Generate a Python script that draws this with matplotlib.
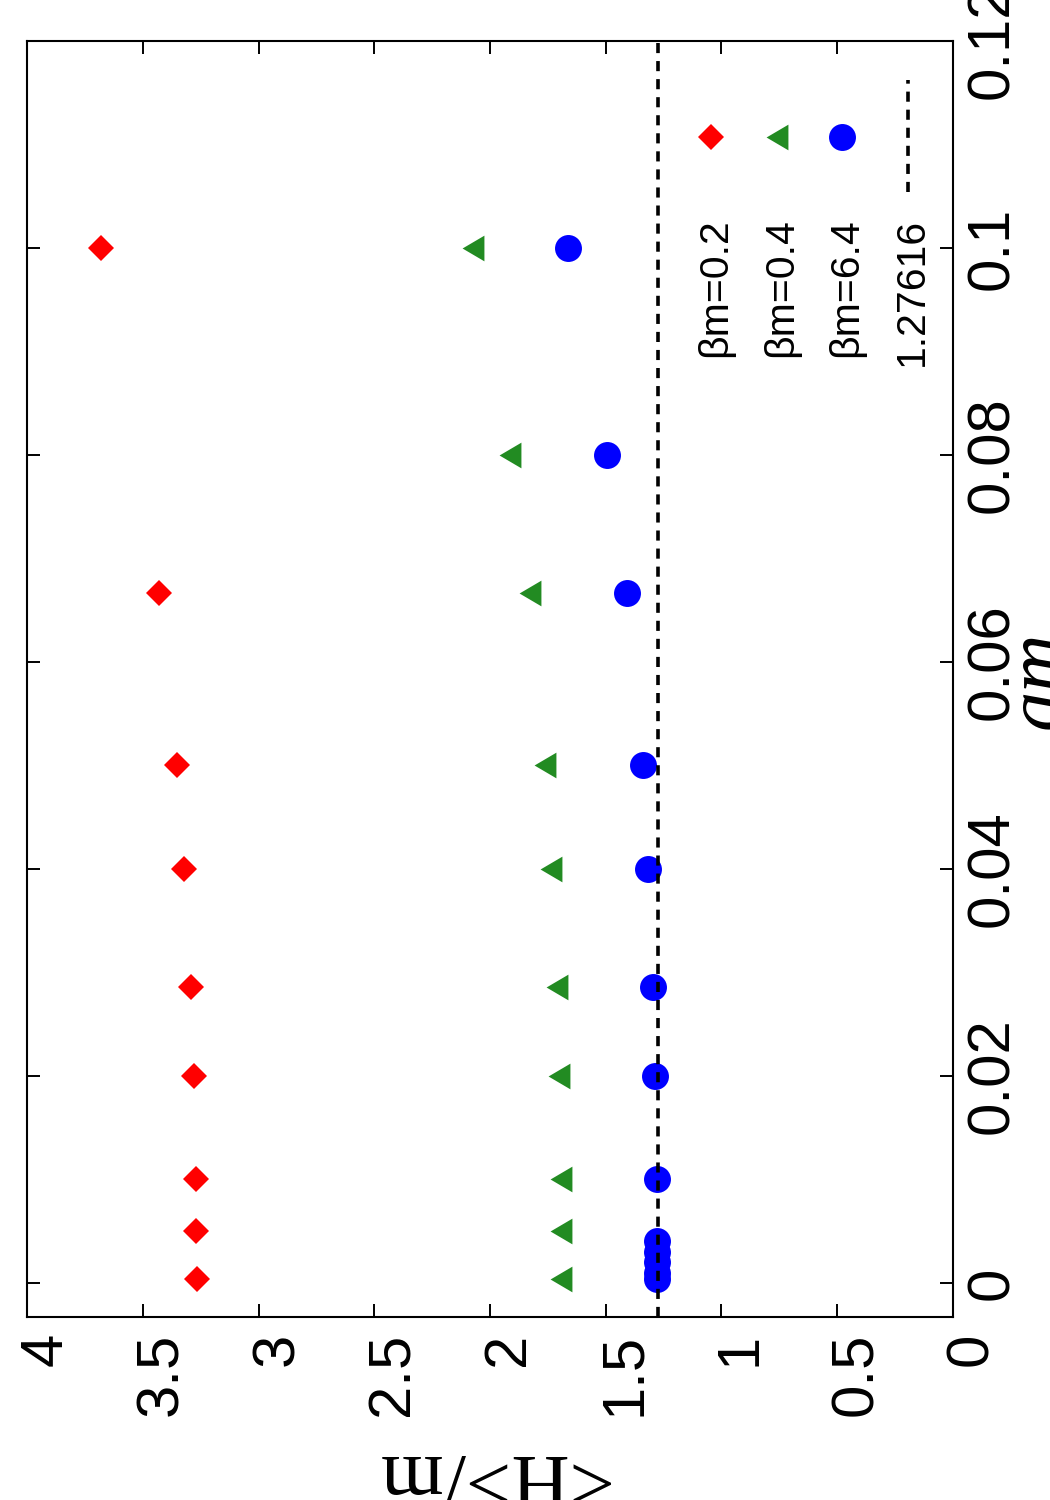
import matplotlib
matplotlib.use('Agg')
import matplotlib.pyplot as plt
from matplotlib.transforms import ScaledTranslation

plt.rcParams['font.family'] = ['Liberation Sans', 'DejaVu Sans']

# valores (am no eixo vertical, <H>/m no horizontal)
am_02 = [0.0004, 0.005, 0.01, 0.02, 0.0286, 0.04, 0.05, 0.0667, 0.1]
h_02 = [3.265, 3.27, 3.27, 3.28, 3.29, 3.32, 3.35, 3.43, 3.68]

am_04 = [0.0004, 0.005, 0.01, 0.02, 0.0286, 0.04, 0.05, 0.0667, 0.08, 0.1]
h_04 = [1.692, 1.692, 1.694, 1.70, 1.71, 1.737, 1.763, 1.828, 1.915, 2.075]

am_64 = [0.0004, 0.001, 0.002, 0.003, 0.004, 0.01, 0.02, 0.0286, 0.04, 0.05,
         0.0667, 0.08, 0.1]
h_64 = [1.277, 1.277, 1.277, 1.277, 1.277, 1.279, 1.287, 1.296, 1.318, 1.339,
        1.408, 1.495, 1.664]

h_limit = 1.27616

labels = ['βm=0.2', 'βm=0.4', 'βm=6.4', '1.27616']
h_ticks = [0, 0.5, 1, 1.5, 2, 2.5, 3, 3.5, 4]
h_tick_labels = ['0', '0.5', '1', '1.5', '2', '2.5', '3', '3.5', '4']
am_ticks = [0, 0.02, 0.04, 0.06, 0.08, 0.1, 0.12]
am_tick_labels = ['0', '0.02', '0.04', '0.06', '0.08', '0.1', '0.12']

# estilos
tri = [(-0.85, 0), (0.85, 1), (0.85, -1)]
styles = [dict(marker='D', color='red', ms=13.2),
          dict(marker=tri, color='forestgreen', ms=18.5),
          dict(marker='o', color='blue', ms=19.4)]
dash = (0, (2.8, 2.2))
dash_lw = 2.6

fig = plt.figure(figsize=(10.5, 15), dpi=100)
ax = fig.add_axes([27 / 1050, 1 - 1317 / 1500, 926 / 1050, 1276 / 1500])

for h, am, st in zip([h_02, h_04, h_64], [am_02, am_04, am_64], styles):
    ax.plot(h, am, linestyle='none', mew=0, **st)
ax.axvline(h_limit, color='black', lw=dash_lw, linestyle=dash, zorder=5)

ax.set_xlim(4, 0)
ax.set_ylim(-0.0033, 0.12)
for s in ax.spines.values():
    s.set_linewidth(1.5)

ax.tick_params(axis='both', direction='in', length=9.5, width=1.4,
               top=True, right=True, labelsize=43)
ax.tick_params(axis='y', labelleft=False, labelright=True, pad=8.5)
ax.tick_params(axis='x', pad=11.5)
ax.set_xticks(h_ticks, h_tick_labels)
ax.set_yticks(am_ticks, am_tick_labels)

shift = ScaledTranslation(0.13, 0, fig.dpi_scale_trans)
for t in ax.xaxis.get_major_ticks():
    t.label1.set(rotation=90, rotation_mode='anchor', ha='right',
                 va='center_baseline')
    t.label1.set_transform(t.label1.get_transform() + shift)
for t in ax.yaxis.get_major_ticks():
    t.label2.set(rotation=90, rotation_mode='anchor', ha='center', va='top')

# rotulos dos eixos
fig.text(490 / 1050, 1 - 1455 / 1500, '<H>/m', rotation=180,
         rotation_mode='anchor', ha='center', va='baseline',
         family='Liberation Serif', fontsize=58)
fig.text(1060 / 1050, 1 - 680 / 1500, 'am', rotation=90,
         rotation_mode='anchor', ha='center', va='baseline',
         family='Liberation Serif', style='italic', fontsize=58)

# legenda feita a mao (rotacionada)
x0, dx = 0.7387, 0.0709
y_mark, y_text = 0.9248, 0.8613
for i, lab in enumerate(labels):
    xc = x0 + i * dx
    if i < 3:
        ax.plot([xc], [y_mark], transform=ax.transAxes, clip_on=False,
                linestyle='none', mew=0, **styles[i])
    else:
        ax.plot([xc, xc], [0.8817, 0.9694], transform=ax.transAxes,
                color='black', lw=dash_lw, linestyle=dash)
    ax.text(xc, y_text, lab, transform=ax.transAxes, rotation=90,
            rotation_mode='anchor', ha='right', va='center_baseline',
            fontsize=29.5)

fig.savefig('out.png', dpi=100)
